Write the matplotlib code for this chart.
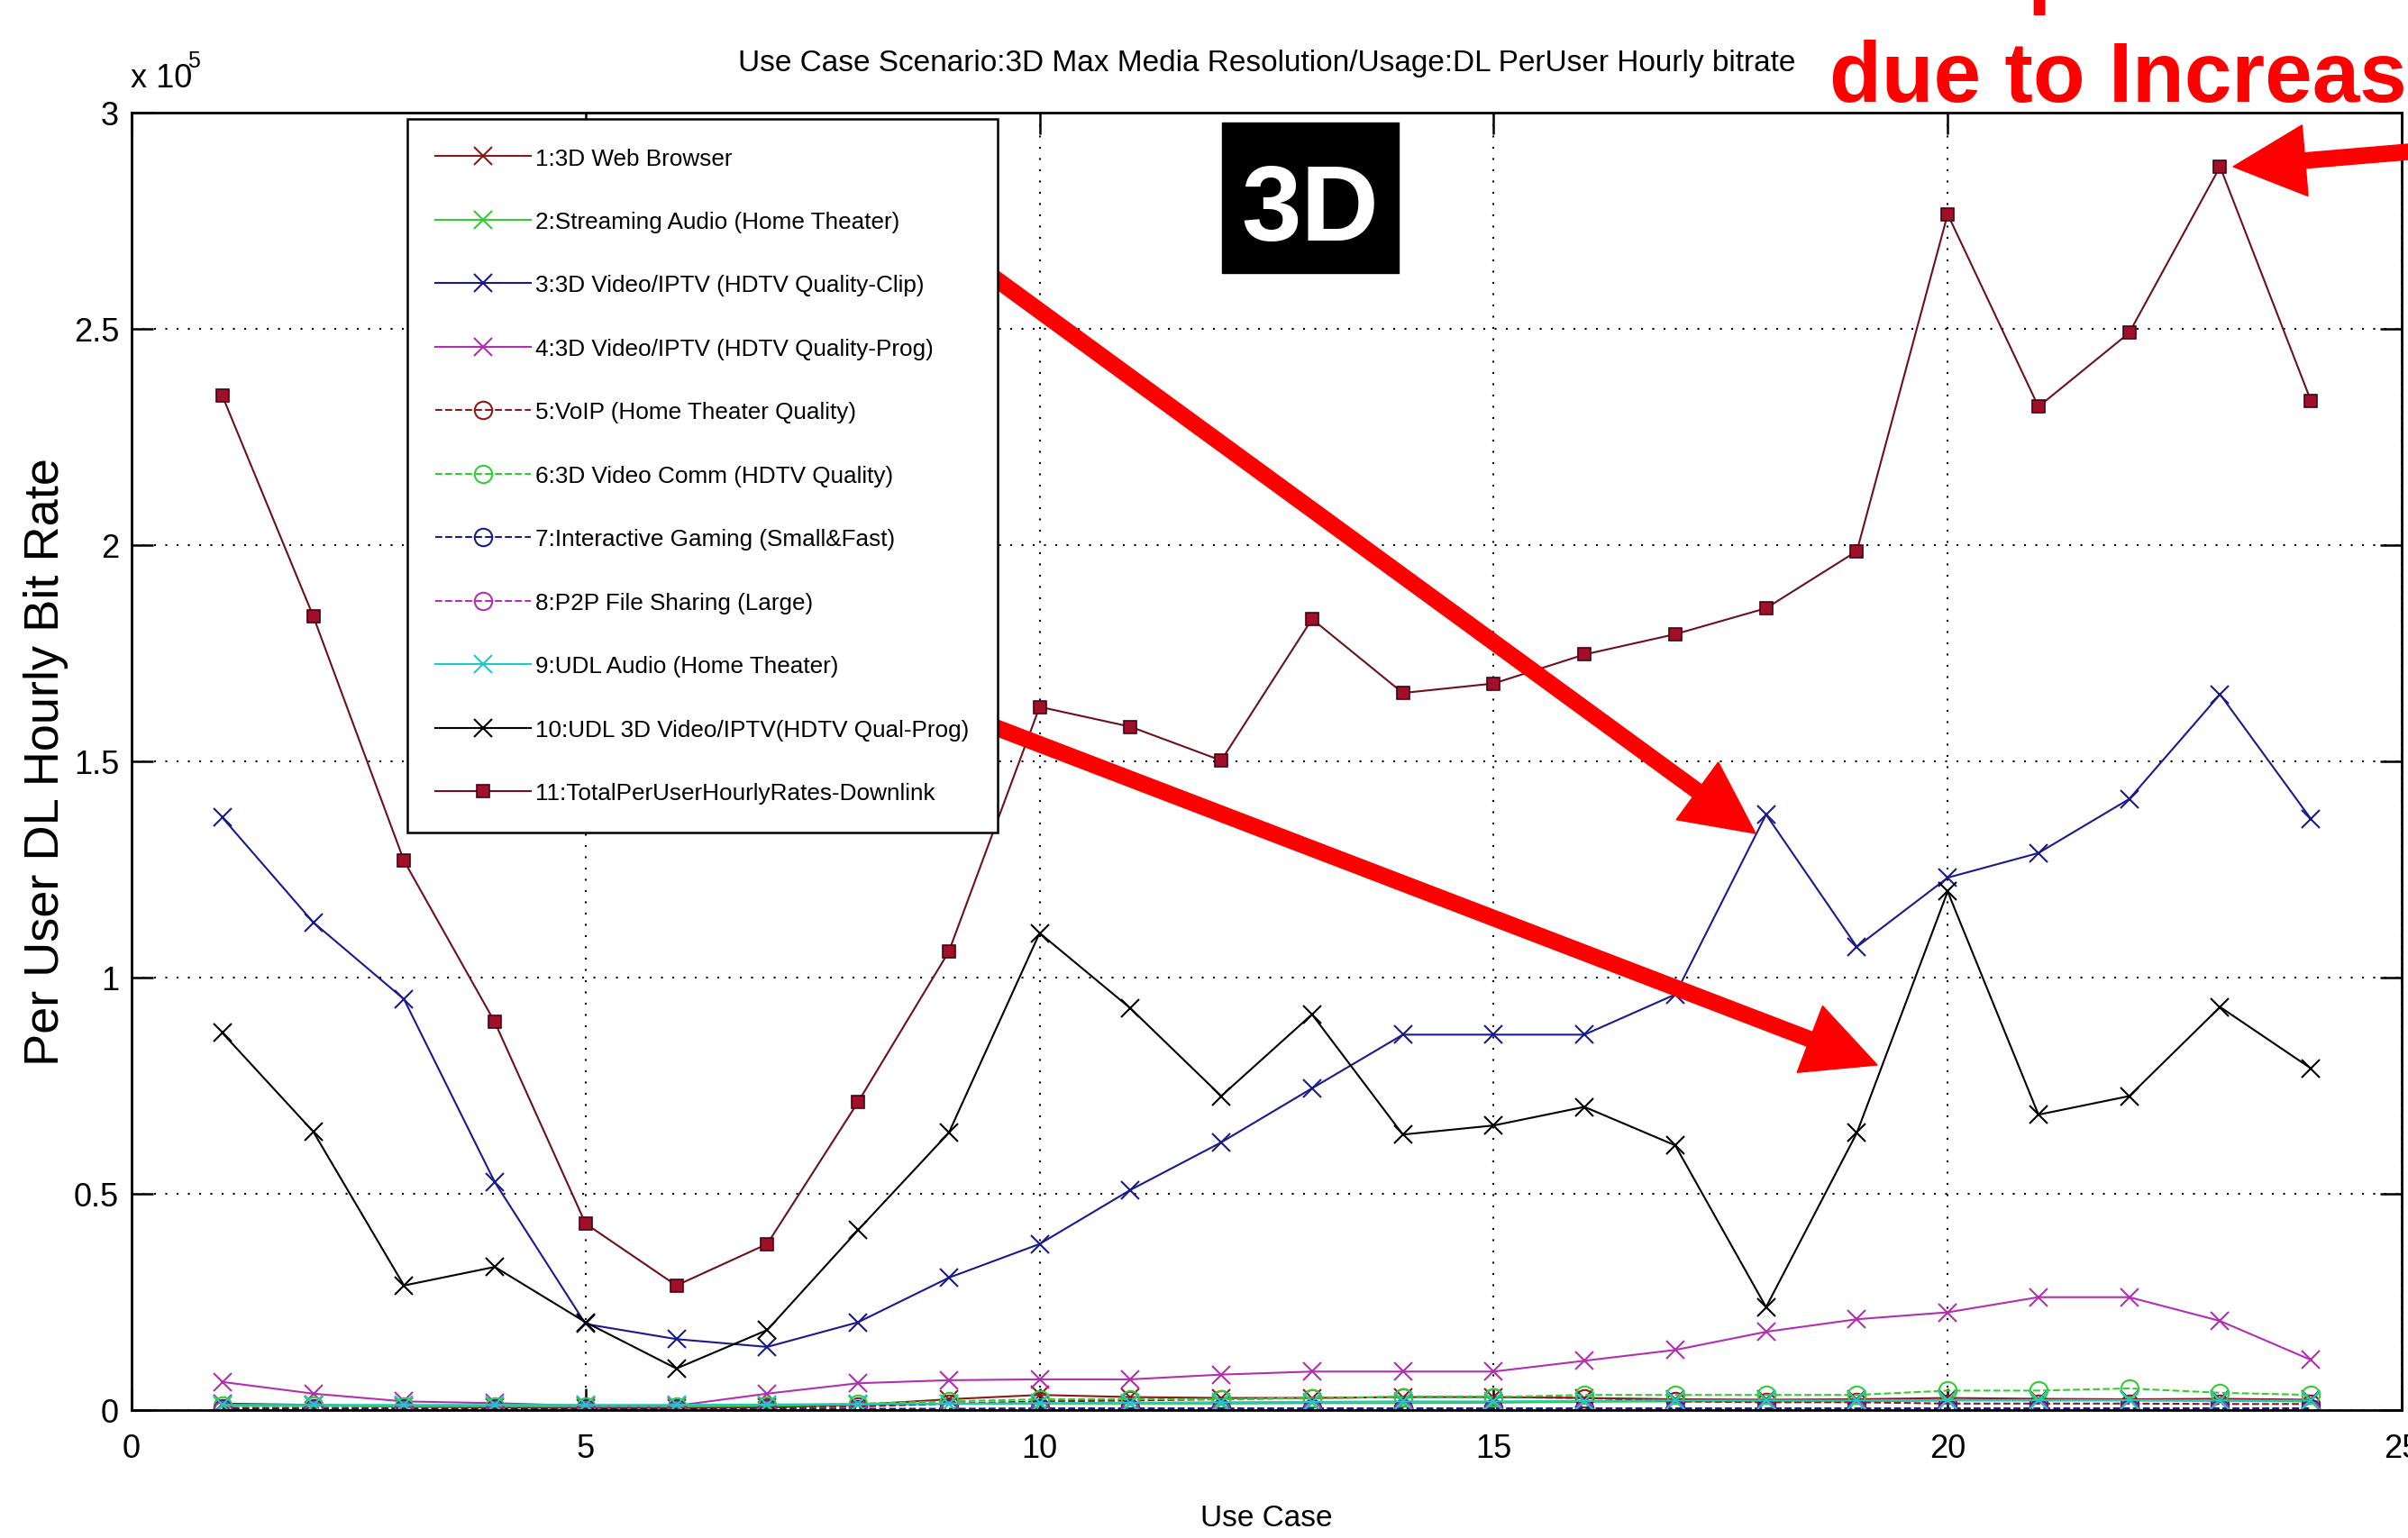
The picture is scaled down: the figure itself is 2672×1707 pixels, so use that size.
import matplotlib.pyplot as plt
from matplotlib.patches import FancyArrow, Rectangle
import numpy as np

# use cases 1..24
use_case = np.arange(1, 25)

web_browser = [1500, 1200, 800, 600, 500, 500, 600, 1200, 2500, 3500, 3000, 2800,
               2800, 3000, 3000, 2800, 2500, 2400, 2500, 2800, 2600, 2500, 2600, 2400]
streaming_audio = [1000, 1000, 900, 900, 900, 900, 1000, 1200, 1400, 1500, 1500, 1500,
                   1600, 1600, 1700, 1900, 2000, 2000, 2000, 2200, 2200, 2200, 2100, 2000]
video_clip = [137000, 112800, 95000, 52700, 19900, 16400, 14600, 20300, 30600, 38400, 50900, 61900,
              74400, 86800, 86800, 86800, 96100, 137700, 107100, 123100, 128800, 141300, 165500, 136700]
video_prog = [6500, 3800, 2000, 1600, 1000, 1000, 3800, 6200, 6900, 7100, 7100, 8200,
              8900, 8900, 8900, 11400, 13900, 18100, 21000, 22600, 26100, 26100, 20600, 11600]
voip = [500, 500, 500, 500, 500, 500, 600, 800, 1500, 2000, 2200, 2500,
        2800, 3000, 3000, 2800, 2000, 1800, 1800, 1500, 1500, 1500, 1400, 1400]
video_comm = [1000, 1000, 800, 800, 800, 800, 1000, 1500, 2000, 2500, 2500, 2500,
              2800, 3000, 3000, 3500, 3500, 3500, 3500, 4500, 4500, 5000, 4000, 3500]
gaming = [300, 300, 300, 300, 300, 300, 300, 300, 300, 400, 400, 400,
          400, 400, 400, 400, 400, 400, 400, 400, 400, 400, 400, 400]
p2p = [100, 100, 100, 100, 100, 100, 100, 100, 100, 100, 100, 100,
       100, 100, 100, 100, 100, 100, 100, 100, 100, 100, 100, 100]
udl_audio = [1200, 1200, 1200, 1200, 1200, 1200, 1300, 1400, 1500, 1600, 1700, 1800,
             1900, 2000, 2000, 2100, 2200, 2200, 2200, 2300, 2300, 2300, 2200, 2200]
udl_video = [87200, 64400, 28800, 33100, 20300, 9600, 18500, 41600, 64100, 110300, 92900, 72600,
             91500, 63700, 65800, 70100, 61200, 23800, 64100, 119900, 68300, 72600, 93200, 79000]
total = [234500, 183600, 127000, 89700, 43100, 28800, 38400, 71200, 106000, 162600, 158000, 150200,
         182900, 165800, 168000, 174700, 179400, 185400, 198600, 276500, 232000, 249100, 287500, 233400]

labels = ['1:3D Web Browser', '2:Streaming Audio (Home Theater)',
          '3:3D Video/IPTV (HDTV Quality-Clip)', '4:3D Video/IPTV (HDTV Quality-Prog)',
          '5:VoIP (Home Theater Quality)', '6:3D Video Comm (HDTV Quality)',
          '7:Interactive Gaming (Small&Fast)', '8:P2P File Sharing (Large)',
          '9:UDL Audio (Home Theater)', '10:UDL 3D Video/IPTV(HDTV Qual-Prog)',
          '11:TotalPerUserHourlyRates-Downlink']

yticks = [0, 50000, 100000, 150000, 200000, 250000, 300000]
ytick_labels = ['0', '0.5', '1', '1.5', '2', '2.5', '3']
xticks = [0, 5, 10, 15, 20, 25]

plt.rcParams['font.family'] = ['Liberation Sans', 'DejaVu Sans']

dred = '#8b1a1a'
green = '#33cc33'
navy = '#1a1a8c'
mag = '#b030b0'
cyan = '#20c8c8'

fig = plt.figure(figsize=(26.72, 17.08), dpi=100)
ax = fig.add_axes([0.05464, 0.08314, 0.94274, 0.8431])

ms = 14
ax.plot(use_case, web_browser, '-x', color=dred, lw=1.5, ms=ms, mew=1.5, label=labels[0])
ax.plot(use_case, streaming_audio, '-x', color=green, lw=1.5, ms=ms, mew=1.5, label=labels[1])
ax.plot(use_case, video_clip, '-x', color=navy, lw=1.5, ms=ms, mew=1.5, label=labels[2])
ax.plot(use_case, video_prog, '-x', color=mag, lw=1.5, ms=ms, mew=1.5, label=labels[3])
ax.plot(use_case, voip, '--o', color=dred, lw=1.5, ms=ms, mew=1.5, mfc='none', label=labels[4])
ax.plot(use_case, video_comm, '--o', color=green, lw=1.5, ms=ms, mew=1.5, mfc='none', label=labels[5])
ax.plot(use_case, gaming, '--o', color=navy, lw=1.5, ms=ms, mew=1.5, mfc='none', label=labels[6])
ax.plot(use_case, p2p, '--o', color=mag, lw=1.5, ms=ms, mew=1.5, mfc='none', label=labels[7])
ax.plot(use_case, udl_audio, '-x', color=cyan, lw=1.5, ms=ms, mew=1.5, label=labels[8])
ax.plot(use_case, udl_video, '-x', color='black', lw=1.5, ms=ms, mew=1.5, label=labels[9])
ax.plot(use_case, total, '-s', color='#6b1020', lw=1.5, ms=10, mfc='#a0102a', mec='#4a0010',
        mew=1.2, label=labels[10])

ax.set_xlim(0, 25)
ax.set_ylim(0, 300000)
ax.set_xticks(xticks)
ax.set_xticklabels([str(t) for t in xticks])
ax.set_yticks(yticks)
ax.set_yticklabels(ytick_labels)
ax.tick_params(direction='in', length=17, width=1.8, labelsize=26, top=True, right=True)
ax.tick_params(axis='x', pad=18)
ax.tick_params(axis='y', pad=10)
ax.grid(True, color='black', linestyle=(0, (1, 5)), linewidth=1.5)
for s in ax.spines.values():
    s.set_linewidth(2.0)

ax.set_title('Use Case Scenario:3D Max Media Resolution/Usage:DL PerUser Hourly bitrate',
             fontsize=24, pad=34)
ax.set_xlabel('Use Case', fontsize=24, labelpad=32)
ax.set_ylabel('Per User DL Hourly Bit Rate', fontsize=39, labelpad=4)

# x 10^5 exponent
inch = fig.dpi_scale_trans
H = 17.08
fig.text(1.45, H - 0.97, 'x 10', fontsize=26, transform=inch)
fig.text(2.08, H - 0.75, '5', fontsize=18, transform=inch)

leg = ax.legend(loc='upper left', bbox_to_anchor=(0.1215, 0.995), borderaxespad=0,
                fancybox=False, edgecolor='black', framealpha=1, fontsize=18.8,
                handlelength=4.05, handletextpad=0.2, labelspacing=1.78, borderpad=1.2,
                numpoints=1)
leg.get_frame().set_linewidth(1.8)
leg.set_zorder(6)


def arrow(x1, y1, x2, y2):
    a = FancyArrow(x1 / 100, H - y1 / 100, (x2 - x1) / 100, -(y2 - y1) / 100,
                   width=0.17, head_width=0.79, head_length=0.80, length_includes_head=True,
                   color='red', transform=inch, clip_on=False, zorder=5)
    ax.add_patch(a)


arrow(1070, 285, 1948, 926)
arrow(1070, 795, 2083, 1183)
arrow(2690, 168, 2478, 186)

# 3D badge
ax.add_patch(Rectangle((13.56, H - 3.04), 1.96, 1.67, color='black', transform=inch,
                       clip_on=False, zorder=5))
fig.text(14.54, H - 2.67, '3D', color='white', fontsize=86, fontweight='bold',
         ha='center', va='baseline', transform=inch)

# red annotation (cut off by the figure edge)
fig.text(23.08, H + 0.03, 'Bitrate Jump', color='red', fontsize=68, fontweight='bold',
         ha='right', va='baseline', transform=inch)
fig.text(20.30, H - 1.13, 'due to Increased', color='red', fontsize=68, fontweight='bold',
         ha='left', va='baseline', transform=inch)

fig.savefig('out.png', dpi=100)
